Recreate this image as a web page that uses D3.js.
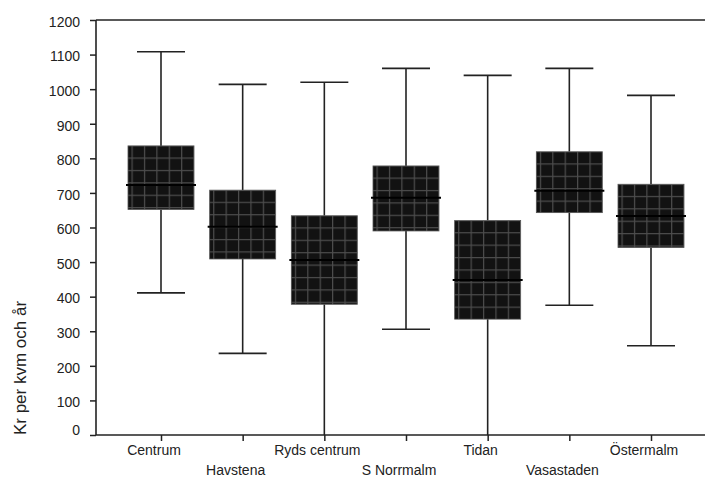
<!DOCTYPE html>
<html>
<head>
<meta charset="utf-8">
<script src="https://cdn.jsdelivr.net/npm/d3@7"></script>
<style>
  html, body { margin: 0; padding: 0; background: #fff; }
  svg { display: block; }
  text { font-family: "Liberation Sans", Arial, sans-serif; fill: #222; }
</style>
</head>
<body>
<svg id="chart" width="705" height="479"></svg>
<script>
// ---- data ----
const categories = ["Centrum", "Havstena", "Ryds centrum", "S Norrmalm", "Tidan", "Vasastaden", "Östermalm"];
const whiskerLow  = [411, 236, 0,   306, 0,    375, 258];
const q1          = [652, 509, 378, 590, 335,  643, 542];
const median      = [723, 602, 506, 686, 448,  706, 633];
const q3          = [836, 708, 634, 778, 620,  819, 725];
const whiskerHigh = [1108, 1014, 1020, 1060, 1040, 1060, 982];
const yTicks = [0, 100, 200, 300, 400, 500, 600, 700, 800, 900, 1000, 1100, 1200];
const yTitle = "Kr per kvm och år";

// ---- layout ----
const svg = d3.select("#chart");
const mLeft = 96, mRight = 705, mTop = 20, mBottom = 435;

const y = d3.scaleLinear().domain([0, 1200]).range([mBottom, mTop]);
const x = d3.scalePoint().domain(categories).range([161, 651]);

const boxW = 66, capW = 48;
const ink = "#222";

const defs = svg.append("defs");

const data = categories.map((c, i) => ({
  c, i, lo: whiskerLow[i], q1: q1[i], med: median[i], q3: q3[i], hi: whiskerHigh[i]
}));

// patterns, one per box aligned to box corner
data.forEach(d => {
  const bx = x(d.c) - boxW / 2, by = y(d.q3);
  const p = defs.append("pattern")
    .attr("id", "pat" + d.i)
    .attr("patternUnits", "userSpaceOnUse")
    .attr("width", 12.4).attr("height", 12.4)
    .attr("patternTransform", `translate(${bx + 3.5},${by - 0.8})`);
  p.append("rect").attr("width", 12.4).attr("height", 12.4).attr("fill", "#121212");
  p.append("line").attr("x1", 0.6).attr("x2", 0.6).attr("y1", 0).attr("y2", 12.4)
    .attr("stroke", "#4d4d4d").attr("stroke-width", 1.2);
  p.append("line").attr("y1", 0.6).attr("y2", 0.6).attr("x1", 0).attr("x2", 12.4)
    .attr("stroke", "#4d4d4d").attr("stroke-width", 1.2);
});

// whiskers and boxes
const g = svg.append("g");
data.forEach(d => {
  const cx = x(d.c);
  g.append("line").attr("x1", cx).attr("x2", cx).attr("y1", y(d.hi)).attr("y2", y(d.q3))
    .attr("stroke", ink).attr("stroke-width", 1.6);
  g.append("line").attr("x1", cx).attr("x2", cx).attr("y1", y(d.q1)).attr("y2", y(d.lo))
    .attr("stroke", ink).attr("stroke-width", 1.6);
  g.append("line").attr("x1", cx - capW / 2).attr("x2", cx + capW / 2)
    .attr("y1", y(d.hi)).attr("y2", y(d.hi)).attr("stroke", ink).attr("stroke-width", 1.6);
  if (d.lo > 0) {
    g.append("line").attr("x1", cx - capW / 2).attr("x2", cx + capW / 2)
      .attr("y1", y(d.lo)).attr("y2", y(d.lo)).attr("stroke", ink).attr("stroke-width", 1.6);
  }
  g.append("rect")
    .attr("x", cx - boxW / 2).attr("y", y(d.q3))
    .attr("width", boxW).attr("height", y(d.q1) - y(d.q3))
    .attr("fill", `url(#pat${d.i})`)
    .attr("stroke", "#555").attr("stroke-width", 0.8);
  g.append("line").attr("x1", cx - boxW / 2 - 2).attr("x2", cx + boxW / 2 + 2)
    .attr("y1", y(d.med)).attr("y2", y(d.med))
    .attr("stroke", "#000").attr("stroke-width", 2);
});

// top frame line
svg.append("line").attr("x1", mLeft).attr("x2", mRight).attr("y1", mTop).attr("y2", mTop)
  .attr("stroke", ink).attr("stroke-width", 1.5);

// y axis
const yAxis = svg.append("g").attr("transform", `translate(${mLeft},0)`)
  .call(d3.axisLeft(y).tickValues(yTicks).tickSize(6).tickPadding(10).tickFormat(d3.format("d")));
yAxis.select(".domain").attr("stroke", ink).attr("stroke-width", 1.6).attr("d", `M0,${mTop}V${mBottom}`);
yAxis.selectAll(".tick line").attr("stroke", ink).attr("stroke-width", 1.5);
yAxis.selectAll(".tick text")
  .style("font-size", "14px").attr("fill", "#222")
  .attr("dy", d => d === 0 ? "-0.05em" : "0.45em");

// x axis
const xAxis = svg.append("g").attr("transform", `translate(0,${mBottom})`)
  .call(d3.axisBottom(x).tickSize(6).tickFormat(""));
xAxis.select(".domain").attr("stroke", ink).attr("stroke-width", 1.6).attr("d", `M${mLeft},0H${mRight}`);
xAxis.selectAll(".tick line").attr("stroke", ink).attr("stroke-width", 1.5);

// staggered category labels
svg.append("g").selectAll("text").data(categories).join("text")
  .attr("x", d => x(d) - 7)
  .attr("y", (d, i) => i % 2 === 0 ? 455 : 475)
  .attr("text-anchor", "middle")
  .style("font-size", "14px")
  .text(d => d);

// y title
svg.append("text")
  .attr("transform", "translate(26,368) rotate(-90)")
  .attr("text-anchor", "middle")
  .style("font-size", "17px")
  .text(yTitle);
</script>
</body>
</html>
